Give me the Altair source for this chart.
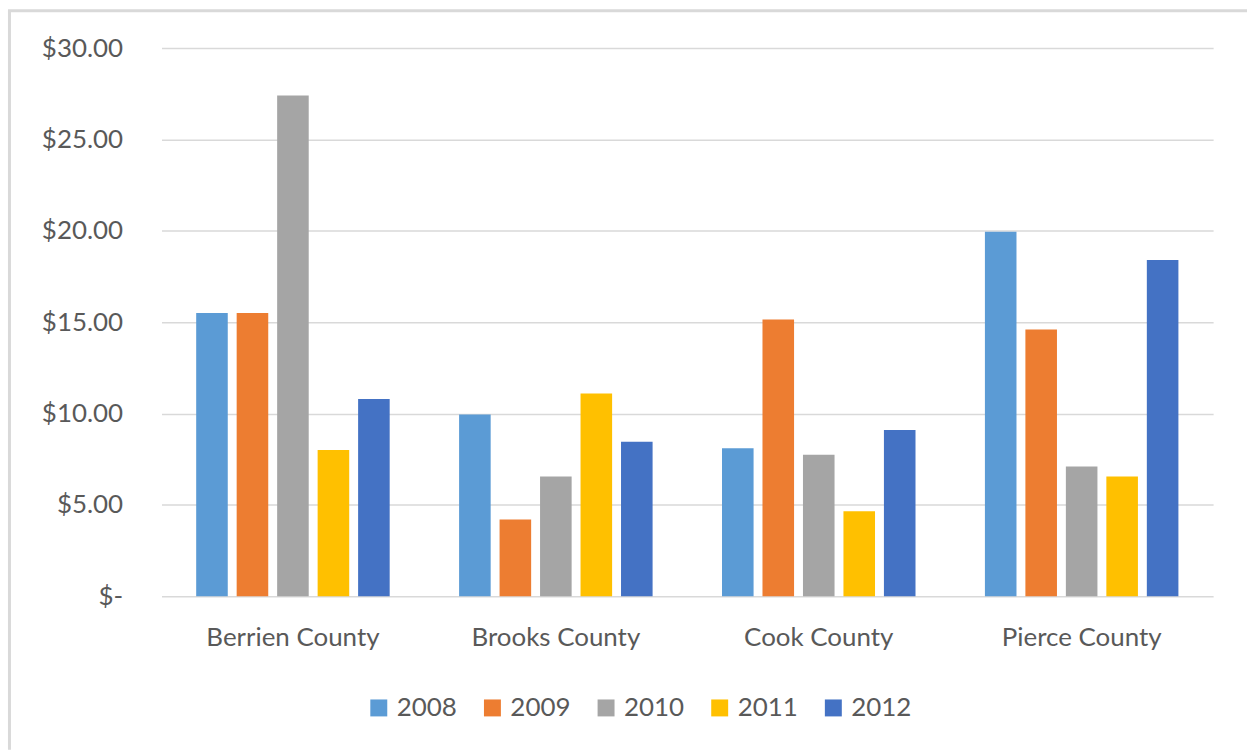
import altair as alt
import pandas as pd

counties = ["Berrien County", "Brooks County", "Cook County", "Pierce County"]
years = ["2008", "2009", "2010", "2011", "2012"]
v2008 = [15.5, 9.95, 8.1, 19.95]
v2009 = [15.5, 4.2, 15.15, 14.6]
v2010 = [27.4, 6.55, 7.75, 7.1]
v2011 = [8.0, 11.1, 4.65, 6.55]
v2012 = [10.8, 8.45, 9.1, 18.4]
colors = ["#5b9bd5", "#ed7d31", "#a5a5a5", "#ffc000", "#4472c4"]
y_ticks = [0, 5, 10, 15, 20, 25, 30]

series = [v2008, v2009, v2010, v2011, v2012]
rows = []
for yr, vals in zip(years, series):
    for c, v in zip(counties, vals):
        rows.append({"county": c, "year": yr, "value": v})
df = pd.DataFrame(rows)

FONT = "Lato"
GRAY = "#595959"
GRID = "#d9d9d9"

bars = alt.Chart(df).mark_bar().encode(
    x=alt.X(
        "county:N",
        sort=counties,
        scale=alt.Scale(paddingInner=0.264, paddingOuter=0.132),
        axis=alt.Axis(
            title=None, labelAngle=0, domain=False, ticks=False,
            labelPadding=28, labelFontSize=26, labelColor=GRAY, labelFont=FONT,
            grid=False,
        ),
    ),
    xOffset=alt.XOffset(
        "year:N", sort=years, scale=alt.Scale(paddingInner=0.22, paddingOuter=0)
    ),
    y=alt.Y(
        "value:Q",
        scale=alt.Scale(domain=[0, 30], nice=False),
        axis=alt.Axis(
            title=None, values=y_ticks, domain=False, ticks=False,
            labelExpr="datum.value == 0 ? '$-\u00a0\u00a0\u00a0' : '$' + format(datum.value, '.2f')",
            labelFontSize=26, labelColor=GRAY, labelFont=FONT, labelPadding=39,
            gridColor=GRID, gridWidth=1.5,
        ),
    ),
    color=alt.Color(
        "year:N",
        sort=years,
        scale=alt.Scale(domain=years, range=colors),
        legend=alt.Legend(
            title=None, orient="none", direction="horizontal",
            legendX=205, legendY=649,
            symbolType="square", symbolSize=289, symbolStrokeWidth=0,
            labelFontSize=26, labelColor=GRAY, labelFont=FONT,
            labelOffset=5, columnPadding=22,
        ),
    ),
)

frame_df = pd.DataFrame({"k": [0]})
left_line = alt.Chart(frame_df).mark_rule(color=GRID, strokeWidth=3).encode(
    x=alt.value(-152.5), y=alt.value(-37.5), y2=alt.value(704)
)
top_line = alt.Chart(frame_df).mark_rule(color=GRID, strokeWidth=3).encode(
    x=alt.value(-154), x2=alt.value(1089), y=alt.value(-37.5)
)

chart = alt.layer(bars, left_line, top_line).properties(
    width=1055, height=550,
    padding={"left": 6, "top": 8, "right": 0, "bottom": 0},
    background="white",
).configure_view(stroke=None)

chart.save("out.html", embed_options={"renderer": "svg", "actions": False})
